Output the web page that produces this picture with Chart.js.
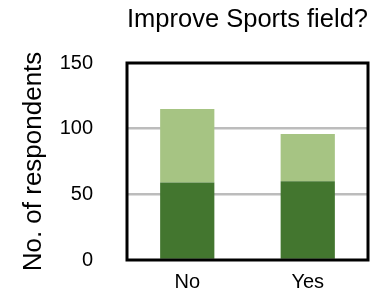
<!DOCTYPE html>
<html>
<head>
<meta charset="utf-8">
<script src="https://cdn.jsdelivr.net/npm/chart.js@4"></script>
<style>
  html, body { margin: 0; padding: 0; background: #fff; }
  #wrap { width: 387px; height: 296px; }
</style>
</head>
<body>
<div id="wrap"><canvas id="chart" width="387" height="296"></canvas></div>
<script>
// chart data
const categories = ["No", "Yes"];
const lowerValues = [59, 60];
const upperValues = [56, 36];
const yTicks = [0, 50, 100, 150];

const FONT = "'Liberation Sans', Arial, Helvetica, sans-serif";

// black frame round the plot area
const frame = {
    id: "frame",
    afterDraw(chart) {
        const { ctx, chartArea: a } = chart;
        ctx.save();
        ctx.strokeStyle = "#000";
        ctx.lineWidth = 3;
        ctx.strokeRect(a.left, a.top, a.right - a.left, a.bottom - a.top);
        ctx.restore();
    }
};

const ctx = document.getElementById("chart").getContext("2d");
new Chart(ctx, {
    type: "bar",
    data: {
        labels: categories,
        datasets: [
            { data: lowerValues, backgroundColor: "#43762f", barPercentage: 0.45, categoryPercentage: 1 },
            { data: upperValues, backgroundColor: "#a6c483", barPercentage: 0.45, categoryPercentage: 1 }
        ]
    },
    options: {
        responsive: false,
        animation: false,
        layout: { padding: { left: 0, right: 19, top: 0, bottom: 0 } },
        plugins: {
            legend: { display: false },
            tooltip: { enabled: false },
            title: {
                display: true,
                text: "Improve Sports field?",
                color: "#000",
                fullSize: false,
                font: { family: FONT, size: 26, weight: "normal" },
                padding: { top: 4, bottom: 27.8 }
            }
        },
        scales: {
            x: {
                stacked: true,
                grid: { display: false, drawTicks: false },
                border: { display: false },
                ticks: { color: "#000", font: { family: FONT, size: 20 }, padding: 10 },
                afterFit(scale) { scale.height = 36; }
            },
            y: {
                stacked: true,
                min: 0,
                max: 150,
                afterBuildTicks(scale) { scale.ticks = yTicks.map(v => ({ value: v })); },
                grid: {
                    drawTicks: true,
                    tickLength: 31,
                    tickColor: "rgba(0,0,0,0)",
                    lineWidth: 2.5,
                    color: ctx => (ctx.tick && (ctx.tick.value === 0 || ctx.tick.value === 150)) ? "rgba(0,0,0,0)" : "#bcbcbc"
                },
                border: { display: false },
                ticks: { color: "#000", font: { family: FONT, size: 20 }, padding: 3 },
                title: {
                    display: true,
                    text: "No. of respondents",
                    color: "#000",
                    font: { family: FONT, size: 26, weight: "normal" },
                    padding: { top: 18, bottom: 0 }
                },
                afterFit(scale) { scale.width = 127; }
            }
        }
    },
    plugins: [frame]
});
</script>
</body>
</html>
